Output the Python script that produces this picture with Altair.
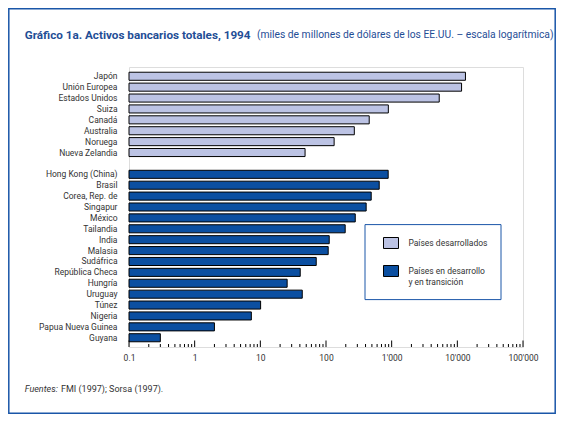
import altair as alt
import pandas as pd

# ---------------- data ----------------
developed = ["Japón", "Unión Europea", "Estados Unidos", "Suiza", "Canadá",
             "Australia", "Noruega", "Nueva Zelandia"]
developed_vals = [13300, 11600, 5300, 890, 455, 270, 133, 48]

developing = ["Hong Kong (China)", "Brasil", "Corea, Rep. de", "Singapur", "México",
              "Tailandia", "India", "Malasia", "Sudáfrica", "República Checa",
              "Hungría", "Uruguay", "Túnez", "Nigeria", "Papua Nueva Guinea", "Guyana"]
developing_vals = [885, 646, 488, 409, 279, 196, 112, 108, 71, 40.5,
                   25.6, 43.5, 10.1, 7.3, 2.0, 0.30]

groups = ["Países desarrollados", "Países en desarrollo y en transición"]
gap_label = " "

tick_values = [0.1, 1, 10, 100, 1000, 10000, 100000]
tick_labels = ["0.1", "1", "10", "100", "1'000", "10'000", "100'000"]
minor_multiples = [2, 3, 4, 5, 6, 7, 8, 9]

title_text = "Gráfico 1a.  Activos bancarios totales, 1994"
subtitle_text = "(miles de millones de dólares de los EE.UU. – escala logarítmica)"
source_italic = "Fuentes:"
source_rest = "FMI (1997); Sorsa (1997)."

# ---------------- tables ----------------
rows = ([{"pais": p, "valor": v, "grupo": groups[0]} for p, v in zip(developed, developed_vals)] +
        [{"pais": p, "valor": v, "grupo": groups[1]} for p, v in zip(developing, developing_vals)])
df = pd.DataFrame(rows)
df["base"] = tick_values[0]

y_domain = developed + [gap_label] + developing

major_df = pd.DataFrame({"v": tick_values})
minor_df = pd.DataFrame({"v": [m * d for d in tick_values[:-1] for m in minor_multiples]})

label_expr = "''"
for v, l in reversed(list(zip(tick_values, tick_labels))):
    label_expr = f"datum.value == {v} ? \"{l}\" : ({label_expr})"

FONT = "Roboto"
LIGHT = "#bcc3e4"
DARK = "#0b4fa1"
BLUE = "#1a56a8"
TITLE_BLUE = "#1f4e96"
TXT = "#333333"
W, H = 394, 280

xscale = alt.Scale(type="log", domain=[tick_values[0], tick_values[-1]], nice=False)

bars = alt.Chart(df).mark_bar(stroke="black", strokeWidth=1).encode(
    y=alt.Y("pais:N", sort=y_domain,
            scale=alt.Scale(domain=y_domain, paddingInner=0.26, paddingOuter=0.48),
            axis=alt.Axis(title=None, ticks=False, domain=False, labelPadding=12,
                          labelFont=FONT, labelFontSize=8.5, labelColor=TXT)),
    x=alt.X("valor:Q", scale=xscale,
            axis=alt.Axis(title=None, grid=False, ticks=False, domain=False,
                          values=tick_values, labelExpr=label_expr,
                          labelFont=FONT, labelFontSize=8.5, labelColor=TXT,
                          labelPadding=6, labelFlush=False, labelOverlap=False)),
    x2="base:Q",
    color=alt.Color("grupo:N", scale=alt.Scale(domain=groups, range=[LIGHT, DARK]),
                    legend=alt.Legend(
                        title=None, orient="none", legendX=254, legendY=168,
                        symbolType="M-1,-0.733H1V0.733H-1Z", symbolSize=225,
                        symbolStrokeColor="black", symbolStrokeWidth=1,
                        symbolOpacity=1, labelOffset=9.4, rowPadding=12,
                        labelFont=FONT, labelFontSize=8.5, labelColor=TXT,
                        padding=0,
                        labelExpr="datum.label == '" + groups[1] +
                                  "' ? ['Países en desarrollo', 'y en transición'] : datum.label")),
)

minor_ticks = alt.Chart(minor_df).mark_rule(color="black", strokeWidth=1).encode(
    x=alt.X("v:Q", scale=xscale), y=alt.value(H), y2=alt.value(H - 3))
major_ticks = alt.Chart(major_df).mark_rule(color="black", strokeWidth=1).encode(
    x=alt.X("v:Q", scale=xscale), y=alt.value(H), y2=alt.value(H - 6.5))

one = pd.DataFrame({"a": [0]})

outer_frame = alt.Chart(one).mark_rect(fill=None, stroke=BLUE, strokeWidth=1.5).encode(
    x=alt.value(-120.2), x2=alt.value(426.2), y=alt.value(-58.2), y2=alt.value(346.2))
legend_box = alt.Chart(one).mark_rect(fill=None, stroke=BLUE, strokeWidth=1).encode(
    x=alt.value(236), x2=alt.value(372), y=alt.value(157.6), y2=alt.value(232.6))

title = alt.Chart(one).mark_text(text=title_text, font=FONT, fontSize=11.7, fontWeight="bold",
                                 color=TITLE_BLUE, align="left", baseline="middle").encode(
    x=alt.value(-104.3), y=alt.value(-32.4))
subtitle = alt.Chart(one).mark_text(text=subtitle_text, font=FONT, fontSize=10.3,
                                    color=TITLE_BLUE, align="right", baseline="middle").encode(
    x=alt.value(424.5), y=alt.value(-32.4))
src1 = alt.Chart(one).mark_text(text=source_italic, font=FONT, fontSize=9, fontStyle="italic",
                                color=TXT, align="left", baseline="middle").encode(
    x=alt.value(-104.3), y=alt.value(322.3))
src2 = alt.Chart(one).mark_text(text=source_rest, font=FONT, fontSize=9,
                                color=TXT, align="left", baseline="middle").encode(
    x=alt.value(-68.0), y=alt.value(322.3))

chart = alt.layer(outer_frame, legend_box, bars, minor_ticks, major_ticks,
                  title, subtitle, src1, src2).properties(
    width=W, height=H,
    autosize=alt.AutoSizeParams(type="none"),
    padding={"left": 121, "top": 59, "right": 33, "bottom": 67},
).configure_view(stroke="black", strokeWidth=1).configure(background="white")

chart.save("out.html", embed_options={"renderer": "svg", "actions": False})
